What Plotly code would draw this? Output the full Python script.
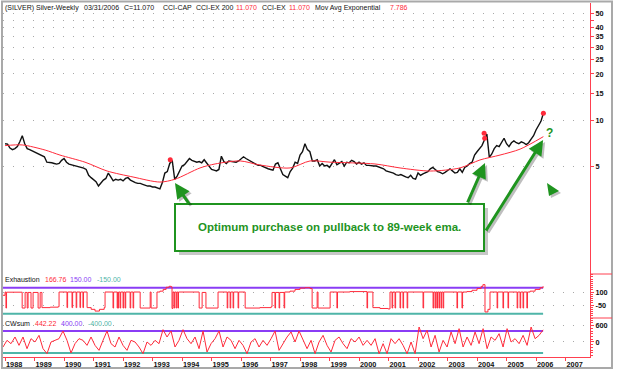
import numpy as np
import plotly.graph_objects as go

# ---------------- data ----------------
# Monthly closes of silver, Dec-1987 ... Mar-2006 (USD / oz)
PRICE = [
    7.00,
    6.95, 6.55, 6.40, 6.50, 6.70, 7.20, 7.90, 7.00, 6.50, 6.40, 6.30, 6.20,   # 1988
    6.05, 5.95, 5.90, 5.75, 5.30, 5.30, 5.25, 5.20, 5.15, 5.20, 5.45, 5.60,   # 1989
    5.30, 5.15, 5.10, 5.05, 5.00, 4.95, 4.90, 4.85, 4.75, 4.35, 4.20, 4.05,   # 1990
    3.95, 3.70, 3.90, 4.05, 4.15, 4.50, 4.25, 4.00, 4.10, 4.05, 4.10, 4.00,   # 1991
    4.15, 4.20, 4.05, 3.95, 3.90, 3.85, 3.85, 3.80, 3.75, 3.70, 3.70, 3.65,   # 1992
    3.65, 3.60, 3.55, 3.90, 4.50, 4.60, 5.20, 5.45, 4.10, 4.30, 4.60, 5.00,   # 1993
    5.10, 5.35, 5.60, 5.45, 5.40, 5.30, 5.35, 5.25, 5.50, 5.25, 5.05, 4.75,   # 1994
    4.70, 4.65, 4.75, 5.80, 5.35, 5.20, 5.40, 5.35, 5.30, 5.30, 5.40, 5.60,   # 1995
    5.75, 5.60, 5.50, 5.35, 5.30, 5.15, 5.05, 5.05, 4.95, 4.85, 4.80, 4.75,   # 1996
    4.70, 5.15, 5.25, 4.80, 4.40, 4.30, 4.20, 4.60, 4.85, 5.30, 5.20, 5.90,   # 1997
    6.20, 7.00, 6.40, 6.20, 5.40, 5.40, 5.50, 5.00, 5.20, 5.00, 5.05, 4.90,   # 1998
    5.15, 5.50, 5.10, 5.20, 5.35, 5.00, 5.30, 5.25, 5.45, 5.35, 5.15, 5.30,   # 1999
    5.15, 5.25, 5.05, 5.05, 5.00, 5.00, 5.00, 4.95, 4.90, 4.80, 4.65, 4.60,   # 2000
    4.60, 4.50, 4.40, 4.35, 4.40, 4.30, 4.25, 4.20, 4.35, 4.15, 4.10, 4.50,   # 2001
    4.35, 4.45, 4.55, 4.60, 4.80, 4.90, 4.75, 4.60, 4.55, 4.45, 4.55, 4.70,   # 2002
    4.80, 4.65, 4.50, 4.55, 4.80, 4.55, 4.90, 5.00, 5.20, 5.30, 5.90, 6.20,   # 2003
    6.50, 6.80, 7.40, 8.10, 5.70, 6.00, 6.50, 6.80, 6.70, 7.20, 7.60, 7.00,   # 2004
    6.70, 7.10, 7.30, 7.10, 7.00, 7.20, 7.10, 6.90, 7.10, 7.50, 7.90, 8.60,   # 2005
    9.30, 9.80, 11.07,                                                        # 2006
]
PRICE_START_YEAR = 1988.0          # Dec-31-1987 close
MONTHS_PER_YEAR = 12

# 89-week exponential moving average, read at points along its curve
EMA_T = [1988.0, 1988.58, 1989.36, 1989.86, 1990.71, 1991.46, 1992.34, 1993.25,
         1993.76, 1994.61, 1995.12, 1995.97, 1996.64, 1997.66, 1998.34, 1999.02,
         2000.54, 2001.39, 2002.41, 2003.42, 2004.10, 2004.78, 2005.46, 2006.25]
EMA_V = [6.80, 6.87, 6.36, 5.90, 5.30, 4.64, 4.24, 3.93,
         4.10, 4.86, 5.16, 5.40, 5.08, 4.86, 5.40, 5.30,
         5.16, 4.86, 4.64, 4.86, 5.48, 5.90, 6.45, 7.786]

# CCI-EX signal dots
SIG_T = [1993.60, 2004.24, 2004.26, 2006.25]
SIG_V = [5.50, 8.20, 7.60, 11.07]

# Exhaustion indicator (step values at change dates)
EXH_T = [1987.93, 1988.00, 1988.03, 1988.05, 1988.58, 1988.68, 1988.75, 1988.78, 1988.88, 1988.95,
         1989.12, 1989.19, 1989.25, 1989.53, 1989.80, 1989.83,
         1990.10, 1990.12, 1990.27, 1990.29, 1990.41, 1990.43, 1990.54, 1990.56, 1990.64, 1990.66,
         1990.78, 1990.92, 1991.05, 1991.20, 1991.36, 1991.39,
         1991.66, 1991.68, 1991.80, 1991.82, 1991.83, 1991.85, 1991.90, 1991.92, 1992.00, 1992.02,
         1992.07, 1992.09, 1992.24, 1992.26, 1992.34, 1992.36,
         1992.58, 1992.92, 1992.95, 1993.15, 1993.25, 1993.36, 1993.46, 1993.56, 1993.63, 1993.66,
         1993.69, 1993.73, 1993.75, 1993.80, 1993.82, 1993.86, 1993.88, 1994.58, 1994.68, 1994.81,
         1995.22, 1995.53, 1995.55, 1995.63, 1995.65, 1995.73, 1995.75, 1995.90, 1995.92,
         1996.14, 1996.64, 1997.02, 1997.05, 1997.15, 1997.17, 1997.29, 1997.31, 1997.46, 1997.48,
         1997.66, 1997.83, 1998.00, 1998.17, 1998.34, 1998.41, 1998.58, 1998.61, 1999.02, 1999.25,
         1999.27, 1999.69, 2000.27, 2000.29, 2000.47, 2000.71, 2000.98, 2001.05, 2001.12, 2001.14,
         2001.22, 2001.24, 2001.39, 2001.41, 2001.49, 2001.51, 2001.63, 2001.65, 2002.17, 2002.19,
         2002.51, 2002.53, 2002.58, 2002.60, 2002.64, 2002.66, 2002.71, 2002.73, 2002.78, 2002.80,
         2002.85, 2002.87, 2003.32, 2003.34, 2003.49, 2003.51, 2003.66, 2003.83, 2004.00, 2004.14,
         2004.20, 2004.27, 2004.37, 2004.44, 2004.68, 2004.70, 2004.88, 2004.90, 2005.05, 2005.07,
         2005.36, 2005.38, 2005.46, 2005.48, 2005.56, 2005.58, 2005.69, 2005.71, 2005.80, 2005.97,
         2006.14, 2006.24]
EXH_V = [62, 100, -85, 98, -85, 95, -85, 95, -85, 95,
         -85, 95, -80, -75, -70, 100,
         -80, 100, -80, 100, -80, 100, -80, 100, -80, 100,
         -80, -100, -120, -100, -80, 100,
         -85, 100, -85, 100, -85, 100, -85, 100, -85, 100,
         -85, 100, -85, 100, -85, 100,
         -85, 100, -85, 100, 110, 130, 155, 166, 160, -90,
         100, -85, 100, -85, 100, -85, 100, -85, 95, -85,
         100, -85, 100, -85, 100, -85, 100, -85, 100,
         -85, -80, -70, 95, -85, 95, -85, 95, -85, 100,
         110, 130, 145, 150, 140, -85, 100, -85, 100, -85,
         100, 105, -85, 100, -80, -90, -95, 100, -85, 100,
         -85, 100, -85, 100, -85, 100, -85, 100, -85, 100,
         -85, 100, -85, 100, -85, 100, -85, 100, -85, 100,
         -85, 100, -85, 100, -85, 100, 105, 120, 140, 165,
         185, -130, -100, 100, -85, 100, -85, 100, -85, 100,
         -85, 100, -85, 100, -85, 100, -85, 100, 110, 130,
         150, 166.76]
EXH_HI, EXH_LO = 150.0, -150.0

# CWsum indicator, evenly spaced samples from start to end of the data
CW = [-182, 60, -61, 182, -122, 182, -243, 121, 0, 242, -243, -425, 0, 60, 121, 400,
      60, -400, -61, 121, 60, -122, 182, -122, -304, 60, 400, -61, -182, 182, -122, -304,
      60, 0, -182, -425, 0, -122, 60, -61, 449, 182, 400, -182, 60, 449, 121, -61,
      182, -243, 400, -364, -61, 121, 400, -182, 182, 60, -243, 60, -122, -425, 0, 121,
      -182, 60, -122, 121, 400, -304, -61, 182, 364, 0, 400, 60, -243, 60, -425, 0,
      242, -122, -364, 60, 182, -61, -243, 121, 0, 182, -122, 60, -122, 121, -425, -61,
      -425, 121, -61, 121, -122, -425, 0, -425, 545, 121, 424, -182, 242, -364, 60, -182,
      364, -61, 485, -182, 182, -122, 364, -61, 485, -243, 182, 60, 303, -182, 485, 0,
      121, -61, 242, -122, 545, 121, 242, 442.22]
CW_START, CW_END = 1987.93, 2006.24
CW_HI, CW_LO = 400.0, -400.0

YEARS = list(range(1988, 2008))
PRICE_TICKS = [5, 10, 15, 20, 25, 30, 35, 40, 45, 50]
PRICE_TICKTEXT = ["5", "10", "15", "20", "25", "30", "35", "40", "", "50"]

# ---------------- styling ----------------
W, H = 617, 372
RED = "#ff2a3a"
AXRED = "#ff4050"
PURPLE = "#8a3cf5"
TEAL = "#4fb5a8"
GREEN = "#1f941f"
FONT = "Liberation Sans"
TXT = 7.3
HTXT = 7.0


def px(x):
    return x / W


def py(y):
    return 1 - y / H


price_t = [PRICE_START_YEAR + i / MONTHS_PER_YEAR for i in range(len(PRICE))]
cw_t = list(np.linspace(CW_START, CW_END, len(CW)))
t0, t1 = EXH_T[0], EXH_T[-1]

fig = go.Figure()
# main panel
fig.add_trace(go.Scatter(x=price_t, y=PRICE, mode="lines", yaxis="y",
                         line=dict(color="#111111", width=1.4)))
fig.add_trace(go.Scatter(x=EMA_T, y=EMA_V, mode="lines", yaxis="y",
                         line=dict(color=RED, width=1, shape="spline", smoothing=0.8)))
fig.add_trace(go.Scatter(x=SIG_T, y=SIG_V, mode="markers", yaxis="y",
                         marker=dict(color=RED, size=5)))
# exhaustion panel
fig.add_trace(go.Scatter(x=[t0, t1], y=[EXH_HI, EXH_HI], mode="lines", yaxis="y2",
                         line=dict(color=PURPLE, width=2)))
fig.add_trace(go.Scatter(x=[t0, t1], y=[EXH_LO, EXH_LO], mode="lines", yaxis="y2",
                         line=dict(color=TEAL, width=2)))
fig.add_trace(go.Scatter(x=EXH_T, y=EXH_V, mode="lines", yaxis="y2",
                         line=dict(color=RED, width=1, shape="hv")))
# CWsum panel
fig.add_trace(go.Scatter(x=[t0, t1], y=[CW_HI, CW_HI], mode="lines", yaxis="y3",
                         line=dict(color=PURPLE, width=2)))
fig.add_trace(go.Scatter(x=[t0, t1], y=[CW_LO, CW_LO], mode="lines", yaxis="y3",
                         line=dict(color=TEAL, width=2)))
fig.add_trace(go.Scatter(x=cw_t, y=CW, mode="lines", yaxis="y3",
                         line=dict(color=RED, width=1)))

tickfont = dict(family=FONT, size=TXT, color="#111111", weight="bold")
grid = dict(showgrid=True, gridcolor="#a8a8a8", griddash="1px,9px", gridwidth=1)

fig.update_layout(
    width=W, height=H, autosize=False,
    margin=dict(l=0, r=0, t=0, b=0),
    paper_bgcolor="white", plot_bgcolor="white",
    showlegend=False,
    xaxis=dict(domain=[px(3), px(590)], range=[1987.93, 2007.83], anchor="y3",
               tickvals=YEARS, ticktext=[str(y) for y in YEARS],
               ticks="outside", ticklen=3, tickcolor=AXRED,
               ticklabelposition="outside right", tickfont=tickfont,
               showline=True, linecolor=AXRED, linewidth=1,
               showgrid=False, zeroline=False),
    yaxis=dict(domain=[py(274), py(3)], type="log",
               range=[np.log10(0.985), 1.7647], side="right", anchor="x",
               tickvals=PRICE_TICKS, ticktext=PRICE_TICKTEXT,
               ticks="outside", ticklen=3, tickcolor=AXRED, tickfont=tickfont,
               showline=True, linecolor=AXRED, linewidth=1, zeroline=False, **grid),
    yaxis2=dict(domain=[py(318), py(274)], range=[-200, 308], side="right", anchor="x",
                tickvals=[100, -50], ticktext=["100", "-50"],
                ticks="outside", ticklen=3, tickcolor=AXRED, tickfont=tickfont,
                minor=dict(ticks="outside", ticklen=2, tickcolor=AXRED, dtick=25, showgrid=False),
                showline=True, linecolor=AXRED, linewidth=1, zeroline=False, **grid),
    yaxis3=dict(domain=[py(357), py(318)], range=[-546, 873], side="right", anchor="x",
                tickvals=[600, 0], ticktext=["600", "0"],
                ticks="outside", ticklen=3, tickcolor=AXRED, tickfont=tickfont,
                minor=dict(ticks="outside", ticklen=2, tickcolor=AXRED, dtick=100, showgrid=False),
                showline=True, linecolor=AXRED, linewidth=1, zeroline=False, **grid),
)

# ---------------- header texts ----------------
def label(text, x, y, color="#111111", size=HTXT, weight="normal"):
    fig.add_annotation(text=text, x=px(x), y=py(y), xref="paper", yref="paper",
                       xanchor="left", yanchor="middle", showarrow=False,
                       font=dict(family=FONT, size=size, color=color, weight=weight))

HDR_Y = 8
label("(SILVER) Silver-Weekly", 3, HDR_Y)
label("03/31/2006", 82, HDR_Y)
label("C=11.070", 122, HDR_Y)
label("CCI-CAP", 161, HDR_Y)
label("CCI-EX 200", 194, HDR_Y)
label("11.070", 234, HDR_Y, RED)
label("CCI-EX", 260, HDR_Y)
label("11.070", 287, HDR_Y, RED)
label("Mov Avg Exponential", 313, HDR_Y)
label("7.786", 388, HDR_Y, RED)

label("Exhaustion", 3, 279)
label("166.76", 43, 279, RED)
label("150.00", 68, 279, PURPLE)
label("-150.00", 95, 279, TEAL)

label("CWsum", 3, 323)
label("442.22", 33, 323, RED)
label("400.00", 59, 323, PURPLE)
label("-400.00", 86, 323, TEAL)

# ---------------- frame & separators ----------------
shapes = [
    dict(type="rect", xref="paper", yref="paper", x0=px(2), x1=px(612), y0=py(368), y1=py(1.5),
         line=dict(color="#a9a9a9", width=2), layer="above"),
    dict(type="line", xref="paper", yref="paper", x0=px(590), x1=px(612), y0=py(274), y1=py(274),
         line=dict(color=AXRED, width=1)),
    dict(type="line", xref="paper", yref="paper", x0=px(590), x1=px(612), y0=py(318), y1=py(318),
         line=dict(color=AXRED, width=1)),
    # green callout box with shadow
    dict(type="rect", xref="paper", yref="paper", x0=px(179), x1=px(488), y0=py(255), y1=py(208),
         fillcolor="rgba(0,0,0,0.22)", line=dict(width=0)),
    dict(type="rect", xref="paper", yref="paper", x0=px(175), x1=px(484), y0=py(251), y1=py(204),
         fillcolor="white", line=dict(color=GREEN, width=2)),
    # green right-pointing triangle (with shadow)
    dict(type="path", xref="paper", yref="paper",
         path=f"M{px(549)},{py(185)} L{px(561)},{py(193)} L{px(551)},{py(198)} Z",
         fillcolor="rgba(0,0,0,0.25)", line=dict(width=0)),
    dict(type="path", xref="paper", yref="paper",
         path=f"M{px(547)},{py(183)} L{px(559)},{py(191)} L{px(549)},{py(196)} Z",
         fillcolor=GREEN, line=dict(width=0)),
]
fig.update_layout(shapes=shapes)

fig.add_annotation(text="Optimum purchase on pullback to 89-week ema.",
                   x=px(329), y=py(227), xref="paper", yref="paper",
                   showarrow=False, xanchor="center", yanchor="middle",
                   font=dict(family=FONT, size=11.5, color=GREEN, weight="bold"))
fig.add_annotation(text="?", x=px(549), y=py(133), xref="paper", yref="paper",
                   showarrow=False, xanchor="center", yanchor="middle",
                   font=dict(family=FONT, size=12, color=GREEN, weight="bold"))

# arrows: (tip year, tip price, tail offset px)
ARROWS = [(1993.76, 3.87, 15, 22), (2004.27, 5.24, -18, 41), (2006.24, 7.40, -58, 92)]
for (ty, tp, ax, ay) in ARROWS:
    for shadow in (True, False):
        off = 2 if shadow else 0
        fig.add_annotation(x=ty, y=np.log10(tp), xref="x", yref="y",
                           ax=ax, ay=ay, xshift=off, yshift=-off,
                           showarrow=True, arrowhead=2, arrowsize=1, arrowwidth=3,
                           arrowcolor="rgba(0,0,0,0.25)" if shadow else GREEN,
                           standoff=0, text="")

fig.write_html("out.html",
               config={"displayModeBar": False, "staticPlot": True},
               post_script="document.body.style.margin='0';document.body.style.overflow='hidden';")
